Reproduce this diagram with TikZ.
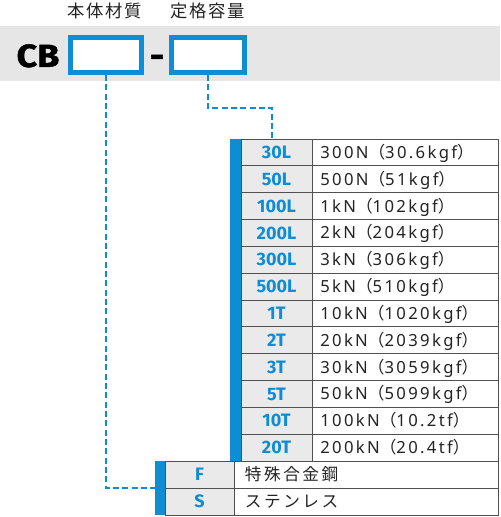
\documentclass[tikz,border=0pt]{standalone}
\usepackage{fontspec}
\setmainfont{Noto Sans}
\newfontfamily\jpfont{Noto Sans CJK JP}
\newfontfamily\jphead{Noto Sans CJK JP}[LetterSpace=9]
\newfontfamily\jpcell{Noto Sans CJK JP}[LetterSpace=15]
\newfontfamily\valfont{Noto Sans}[LetterSpace=14]
\newfontfamily\codefont{Fira Sans}
\newfontfamily\cbfont{Fira Sans}[FakeStretch=1.12, FakeBold=1.5]
\newcommand\lpar{{\jpfont （}}
\newcommand\rpar{{\jpfont ）}}
\definecolor{cbblue}{RGB}{14,140,212}
\definecolor{bandgray}{RGB}{230,230,230}
\definecolor{cellgray}{RGB}{234,234,234}
\definecolor{gridline}{RGB}{80,80,80}
\definecolor{txt}{RGB}{35,35,35}
\begin{document}
\begin{tikzpicture}[x=0.75pt,y=-0.75pt,
  hdr/.style={inner sep=0pt, text=txt, font=\jphead\fontsize{13}{13}\selectfont},
  cbtext/.style={inner sep=0pt, text=black, font=\cbfont\bfseries\fontsize{24}{24}\selectfont, text height=16.4pt, text depth=0pt},
  slot/.style={rectangle, draw=cbblue, fill=white, line width=3.4pt, minimum height={35.5*0.75pt}, inner sep=0pt},
  codecell/.style={rectangle, draw=gridline, fill=cellgray, line width=0.75pt, outer sep=0pt, inner sep=0pt, anchor=north west, text=cbblue, font=\codefont\bfseries\fontsize{13.5}{13.5}\selectfont, text height=9.3pt, text depth=0pt},
  valcell/.style={rectangle, draw=gridline, fill=white, line width=0.75pt, outer sep=0pt, inner sep=0pt, anchor=north west},
  valtext/.style={inner sep=0pt, anchor=west, text=txt, font=\valfont\fontsize{12.5}{12.5}\selectfont, text height=8.9pt, text depth=0pt},
  jptext/.style={inner sep=0pt, anchor=west, text=txt, font=\jpcell\fontsize{12.5}{12.5}\selectfont, text height=9.5pt, text depth=0pt},
  barbox/.style={rectangle, fill=cbblue, draw=none, outer sep=0pt, inner sep=0pt, anchor=north west},
  conn/.style={draw=cbblue, line width=2pt, dash pattern=on 4.5pt off 2.5pt}
]
\useasboundingbox (0,0) rectangle (500,517);
\fill[bandgray] (0,26) rectangle (500,81);

\node[hdr] (h1) at (104.5,10.5) {本体材質};
\node[hdr] (h2) at (207.5,10.5) {定格容量};
\node[cbtext] (cb) at (38,56) {CB};
\node[cbtext] (dash) at (157,56) {-};
\node[slot, minimum width={71.5*0.75pt}] (box1) at (106,55) {};
\node[slot, minimum width={73.5*0.75pt}] (box2) at (208,55) {};

% capacity table
\foreach \c/\v [count=\i from 0] in {
  30L/300N\lpar 30.6kgf\rpar,
  50L/500N\lpar 51kgf\rpar,
  100L/1kN\lpar 102kgf\rpar,
  200L/2kN\lpar 204kgf\rpar,
  300L/3kN\lpar 306kgf\rpar,
  500L/5kN\lpar 510kgf\rpar,
  1T/10kN\lpar 1020kgf\rpar,
  2T/20kN\lpar 2039kgf\rpar,
  3T/30kN\lpar 3059kgf\rpar,
  5T/50kN\lpar 5099kgf\rpar,
  10T/100kN\lpar 10.2tf\rpar,
  20T/200kN\lpar 20.4tf\rpar}{
  \node[codecell, minimum width={71*0.75pt}, minimum height={26.833*0.75pt}] (c\i) at (241,{139+\i*26.833}) {\c};
  \node[valcell, minimum width={186*0.75pt}, minimum height={26.833*0.75pt}] (v\i) at (312,{139+\i*26.833}) {};
  \node[valtext] (t\i) at ([xshift=6pt]v\i.west) {\v};
}
\node[barbox, minimum width={11*0.75pt}, minimum height={322*0.75pt}] (bar1) at (230,139) {};

% material table
\foreach \c/\v [count=\i from 0] in {F/特殊合金鋼, S/ステンレス}{
  \node[codecell, minimum width={69*0.75pt}, minimum height={27*0.75pt}] (m\i) at (165,{461+\i*27}) {\c};
  \node[valcell, minimum width={264*0.75pt}, minimum height={27*0.75pt}] (n\i) at (234,{461+\i*27}) {};
  \node[jptext] (s\i) at ([xshift=8pt]n\i.west) {\v};
}
\node[barbox, minimum width={10*0.75pt}, minimum height={54*0.75pt}] (bar2) at (155,461) {};

% connectors
\coordinate (join) at (272,139);
\coordinate (bendy) at (0,108);
\draw[conn] (box1.south) |- (bar2.west);
\draw[conn] (box2.south) -- (box2.south |- bendy) -| (join);
\end{tikzpicture}
\end{document}
